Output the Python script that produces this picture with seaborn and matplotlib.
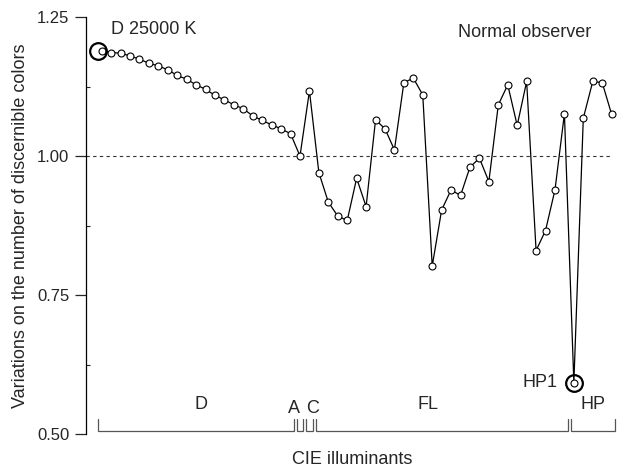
# variations in number of discernible colours across CIE illuminants

import numpy as np
import pandas as pd
import matplotlib
matplotlib.use('Agg')
import matplotlib.pyplot as plt
from matplotlib.ticker import AutoMinorLocator, FormatStrFormatter
import seaborn as sns

# values, one list per illuminant family
d_vals = [1.189, 1.186, 1.185, 1.180, 1.174, 1.167, 1.162, 1.155, 1.145, 1.138,
          1.128, 1.120, 1.109, 1.101, 1.092, 1.085, 1.072, 1.064, 1.056, 1.049, 1.040]
a_vals = [1.000]
c_vals = [1.117]
fl_vals = [0.970, 0.917, 0.892, 0.884, 0.960, 0.909, 1.065, 1.049, 1.011, 1.132,
           1.140, 1.110, 0.802, 0.903, 0.939, 0.929, 0.980, 0.996, 0.954, 1.092,
           1.128, 1.055, 1.134, 0.830, 0.866, 0.939, 1.076]
hp_vals = [0.592, 1.068, 1.134, 1.132, 1.075]

groups = ['D', 'A', 'C', 'FL', 'HP']
group_vals = [d_vals, a_vals, c_vals, fl_vals, hp_vals]
# where the group names sit along the x axis (in point index units)
group_label_x = [10.5, 20.4, 22.3, 34.6, 52.0]
group_label_y = [0.553, 0.546, 0.546, 0.553, 0.553]

df = pd.DataFrame({
    'value': np.concatenate(group_vals),
    'group': np.repeat(groups, [len(v) for v in group_vals]),
})
df['idx'] = np.arange(len(df))

sns.set_style('ticks')
plt.rcParams['font.family'] = ['Liberation Sans', 'DejaVu Sans']

fig = plt.figure(figsize=(6.19, 4.72), dpi=100)
ax = fig.add_axes([86 / 619, 1 - 434 / 472, 1 - 86 / 619, (434 - 17) / 472])

# reference line at 1.00
ax.hlines(1.0, -1.66, df['idx'].iloc[-1], colors='#333333', linestyles=(0, (3, 3)), linewidth=0.8)

sns.lineplot(data=df, x='idx', y='value', ax=ax, color='black', linewidth=0.9,
             marker='o', markersize=5, markerfacecolor='white',
             markeredgecolor='black', markeredgewidth=0.8, zorder=3)

# highlight the two extremes
first = df.iloc[0]
hp1 = df[df['group'] == 'HP'].iloc[0]
ax.plot(first['idx'] - 0.35, first['value'], 'o', markersize=12, markerfacecolor='none',
        markeredgecolor='black', markeredgewidth=1.6, zorder=4)
ax.plot(hp1['idx'], hp1['value'], 'o', markersize=12, markerfacecolor='none',
        markeredgecolor='black', markeredgewidth=1.6, zorder=4)
ax.annotate('D 25000 K', (first['idx'], first['value']), xytext=(9, 21),
            textcoords='offset pixels', ha='left', va='center', fontsize=13)
ax.annotate('HP1', (hp1['idx'], hp1['value']), xytext=(-16, 0),
            textcoords='offset pixels', ha='right', va='center', fontsize=13)
ax.text(37.7, 1.222, 'Normal observer', ha='left', va='center', fontsize=13)

# brackets under each illuminant family
gap = 0.15
start = 0
for name, vals, lx, ly in zip(groups, group_vals, group_label_x, group_label_y):
    lo = start - 0.5 + gap
    hi = start + len(vals) - 0.5 - gap
    ax.plot([lo, lo, hi, hi], [0.527, 0.5055, 0.5055, 0.527], color='#555555',
            linewidth=0.9, solid_joinstyle='miter', clip_on=False)
    ax.text(lx, ly, name, ha='center', va='center', fontsize=13)
    start += len(vals)

ax.set_xlim(-1.66, 54.78)
ax.set_ylim(0.5, 1.25)
ax.set_yticks([0.5, 0.75, 1.0, 1.25])
ax.yaxis.set_major_formatter(FormatStrFormatter('%.2f'))
ax.yaxis.set_minor_locator(AutoMinorLocator(2))
ax.tick_params(axis='y', which='major', direction='out', length=8, width=0.9,
               pad=4, labelsize=12)
ax.tick_params(axis='y', which='minor', direction='in', length=3, width=0.8)
ax.set_xticks([])
for side in ['top', 'right', 'bottom']:
    ax.spines[side].set_visible(False)
ax.spines['left'].set_linewidth(0.9)
ax.spines['left'].set_color('black')

ax.set_xlabel('CIE illuminants', fontsize=13, labelpad=12)
ax.set_ylabel('Variations on the number of discernible colors', fontsize=13, labelpad=6)

plt.savefig('out.png', dpi=100)
plt.close()
